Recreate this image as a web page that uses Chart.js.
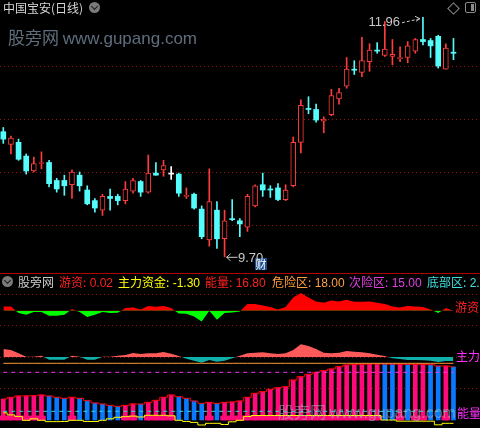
<!DOCTYPE html>
<html>
<head>
<meta charset="utf-8">
<title>中国宝安(日线)</title>
<script src="https://cdn.jsdelivr.net/npm/chart.js@4.4.1/dist/chart.umd.min.js"></script>
<style>
  html, body { margin: 0; padding: 0; background: #000; }
  #wrap { position: relative; width: 480px; height: 428px; overflow: hidden; background: #000;
          font-family: "Noto Sans CJK SC", "Noto Sans", sans-serif; }
  #c { position: absolute; left: 0; top: 0; }
  .t { position: absolute; white-space: nowrap; font-size: 12px; line-height: 14px; }
  .num { font-family: "Liberation Sans", "DejaVu Sans", sans-serif; }
  .ring { position: absolute; width: 11px; height: 11px; border-radius: 50%; background: #7a7a7a; }
  .ring::after { content: ""; position: absolute; left: 3px; top: 2px; width: 4px; height: 4px;
                 border-right: 1.5px solid #1a1a1a; border-bottom: 1.5px solid #1a1a1a; transform: rotate(45deg); }
  #sep { position: absolute; left: 0; top: 273px; width: 480px; height: 1px; background: #b00000; }
  #diamond { position: absolute; left: 449px; top: 4px; width: 7px; height: 7px; border: 1px solid #8a8a8a; transform: rotate(45deg); }
  #panelbtn { position: absolute; left: 465px; top: 2px; width: 9px; height: 9px; border: 1.5px solid #8a8a8a; border-radius: 2px; }
  #panelbtn::after { content: ""; position: absolute; right: 1px; top: 1px; width: 3px; height: 7px; background: #8a8a8a; }
  #cai { position: absolute; left: 255px; top: 258px; width: 12px; height: 12px; background: #1c4f8f;
         color: #fff; font-size: 11px; line-height: 12px; text-align: center; }
</style>
</head>
<body>
<div id="wrap">
  <canvas id="c" width="480" height="428"></canvas>
  <div id="sep"></div>
  <div class="t" style="left:3px;top:1px;color:#d6d6d6">中国宝安(日线)</div>
  <div class="ring" style="left:89px;top:2px"></div>
  <div id="diamond"></div>
  <div id="panelbtn"></div>
  <div class="t" style="left:8px;top:28px;font-size:17px;line-height:18px;color:#5f6d7d">股旁网 <span class="num">www.gupang.com</span></div>
  <div id="cai">财</div>

  <div class="ring" style="left:2px;top:276px"></div>
  <div class="t" style="left:18px;top:275px;color:#c8c8c8">股旁网</div>
  <div class="t" style="left:59px;top:275px;color:#ff2020">游资:<span class="num" id="vYZ"></span></div>
  <div class="t" style="left:118px;top:275px;color:#ffff00">主力资金:<span class="num" id="vZL"></span></div>
  <div class="t" style="left:205px;top:275px;color:#ff2020">能量:<span class="num" id="vNL"></span></div>
  <div class="t" style="left:272px;top:275px;color:#ffa040">危险区:<span class="num" id="vDG"></span></div>
  <div class="t" style="left:349px;top:275px;color:#e040e0">次险区:<span class="num" id="vSD"></span></div>
  <div class="t" style="left:427px;top:275px;color:#40e0e0">底部区:<span class="num" id="vBT"></span></div>

  <div class="t" style="left:455px;top:300px;color:#ff2020">游资</div>
  <div class="t" style="left:456px;top:349px;color:#ff30ff">主力</div>
  <div class="t" style="left:457px;top:406px;color:#ff30ff">能量</div>
  <div class="t" style="left:278px;top:402px;font-size:16px;line-height:18px;color:rgba(170,180,195,0.55)">股旁网 <span class="num">www.gupang.com</span></div>
</div>
<script>
// 日线行情
const open  = [10.88,10.76,10.78,10.65,10.51,10.58,10.59,10.42,10.42,10.38,
               10.47,10.33,10.23,10.14,10.27,10.27,10.23,10.32,10.41,10.31,
               10.49,10.52,10.48,10.48,10.27,10.29,10.15,9.86,10.14,9.87,
               10.06,10.04,9.98,10.18,10.38,10.34,10.35,10.24,10.37,10.78,
               11.10,11.09,10.98,11.04,11.19,11.31,11.47,11.44,11.54,11.65,
               11.60,11.59,11.57,11.58,11.64,11.75,11.74,11.78,11.47,11.63];
const high  = [10.92,10.84,10.81,10.67,10.64,10.69,10.61,10.44,10.47,10.52,
               10.50,10.37,10.25,10.29,10.34,10.29,10.41,10.44,10.42,10.66,
               10.59,10.61,10.55,10.49,10.35,10.30,10.18,10.53,10.22,10.14,
               10.24,10.06,10.29,10.38,10.49,10.37,10.39,10.38,10.83,11.18,
               11.21,11.14,11.02,11.28,11.29,11.58,11.55,11.77,11.71,11.72,
               11.92,11.75,11.68,11.73,11.76,11.96,11.76,11.79,11.71,11.76];
const low   = [10.77,10.67,10.61,10.48,10.50,10.53,10.36,10.31,10.28,10.25,
               10.32,10.19,10.12,10.09,10.14,10.19,10.20,10.30,10.27,10.30,
               10.47,10.46,10.43,10.27,10.25,10.15,9.87,9.80,9.78,9.70,
               10.04,9.89,9.94,10.17,10.27,10.26,10.23,10.23,10.36,10.68,
               11.05,10.97,10.87,11.03,11.14,11.29,11.42,11.40,11.45,11.62,
               11.59,11.51,11.54,11.53,11.62,11.70,11.58,11.48,11.47,11.56];
const close = [10.81,10.82,10.62,10.51,10.58,10.59,10.39,10.34,10.37,10.50,
               10.37,10.20,10.16,10.27,10.25,10.23,10.34,10.42,10.31,10.49,
               10.47,10.56,10.48,10.30,10.28,10.16,9.89,10.22,9.87,10.04,
               10.05,10.01,10.27,10.37,10.33,10.33,10.24,10.33,10.78,11.13,
               11.09,10.99,11.00,11.22,11.25,11.47,11.46,11.55,11.65,11.64,
               11.66,11.61,11.58,11.69,11.75,11.73,11.69,11.50,11.67,11.62];
const priceGrid = [10.0, 10.5, 11.0, 11.5];

// 指标: 游资 / 主力资金 / 能量
const youzi = [1.43,1.43,-0.77,-1.33,-0.43,-0.43,-1.67,-1.67,-1.33,0.57,
               -0.43,-2.10,-1.33,-0.43,-0.77,-0.67,0.90,1.10,0.43,1.57,
               1.33,1.57,0.90,-0.90,-1.00,-1.90,-3.57,0.00,-3.00,-0.77,
               -0.57,-0.23,2.23,2.23,1.77,1.23,0.43,1.23,4.43,5.90,
               4.43,3.10,2.67,3.43,3.10,3.67,3.00,3.00,3.10,2.67,
               2.23,1.43,1.10,1.57,1.43,1.23,0.43,-0.77,0.90,0.02];
const zhuli = [2.67,2.33,1.22,0.10,0.10,0.44,-0.89,-0.89,-0.89,0.44,
               0.10,-0.89,-0.89,0.05,0.05,0.44,0.67,1.33,1.00,1.22,
               1.22,1.67,1.10,0.33,-0.55,-1.22,-1.89,-1.00,-1.55,-1.22,
               -0.44,0.44,1.22,1.44,1.55,1.22,1.00,1.22,2.33,4.22,
               3.67,2.67,1.44,1.22,1.44,2.00,1.78,1.55,1.22,0.78,
               0.33,-0.44,-0.67,-1.00,-1.00,-1.10,-1.22,-1.67,-1.33,-1.30];
const nengliang = [6.10,6.67,7.10,7.15,7.20,7.45,7.10,6.67,6.33,6.67,
                   6.33,5.55,4.77,4.43,3.99,3.66,3.99,4.45,4.40,4.99,
                   5.66,6.67,7.43,6.88,6.33,5.43,4.66,4.99,4.66,4.99,
                   5.10,5.43,6.67,8.00,8.55,9.33,9.88,10.20,12.43,13.55,
                   14.33,15.00,15.55,16.10,16.88,17.43,17.66,17.70,17.77,17.80,
                   17.75,17.70,17.72,17.65,17.65,17.66,17.55,17.10,17.10,16.80];
const yellowLine = [1.5,0.8,0.3,-1.0,-0.5,-1.0,-1.45,-1.45,-1.4,-1.0,
                    -1.0,-1.4,-1.4,-1.0,-0.5,0.0,0.2,0.4,0.1,0.67,
                    0.67,0.67,0.5,-1.0,-1.4,-1.7,-2.57,-2.0,-2.0,-2.4,
                    -1.5,-1.0,0.3,0.6,0.6,0.6,0.6,0.6,0.6,0.6,
                    0.6,0.6,0.6,0.6,0.6,0.6,0.6,0.6,0.6,0.6,
                    -0.9,-0.9,-1.3,-1.3,-1.3,-1.3,-1.3,-2.5,-2.0,-2.0];
const DANGER = 18.00, SUB_DANGER = 15.00, BOTTOM_ZONE = 2.00;
const indicatorGrid = [9.6, 20.1, 30.6, 41.1];

// 指标在同一坐标中的摆放基准
const YZ_BASE = 35.5, ZL_BASE = 20.1;
const STICK_FLOOR = -0.9, BAND_TOP = 0.43;

const N = close.length;
const idx = close.map((_, i) => i);
const RED = '#ff3c3c', CYAN = '#54fcfc';
const PINK = '#ff0a78', BLUE = '#0a78ff';
const candleColor = i => close[i] > open[i] ? RED : (close[i] < open[i] ? CYAN : '#ffffff');
const isUp = i => close[i] > open[i];
const rising = i => i === 0 || nengliang[i] >= nengliang[i - 1];
const pt = (arr, off = 0) => idx.map(i => ({ x: i, y: arr[i] + off }));
const flat = v => idx.map(i => ({ x: i, y: v }));

const fmt = v => v.toFixed(2);
document.getElementById('vYZ').textContent = ' ' + fmt(youzi[N - 1]);
document.getElementById('vZL').textContent = ' ' + fmt(zhuli[N - 1]);
document.getElementById('vNL').textContent = ' ' + fmt(nengliang[N - 1]);
document.getElementById('vDG').textContent = ' ' + fmt(DANGER);
document.getElementById('vSD').textContent = ' ' + fmt(SUB_DANGER);
document.getElementById('vBT').textContent = ' ' + fmt(BOTTOM_ZONE);

// 虚线网格
const gridPlugin = {
  id: 'dotGrid',
  beforeDatasetsDraw(chart) {
    const ctx = chart.ctx, a = chart.chartArea;
    ctx.save();
    ctx.strokeStyle = '#a01010';
    ctx.lineWidth = 1;
    ctx.setLineDash([1, 3]);
    const draw = (scale, vals) => vals.forEach(v => {
      const y = Math.round(scale.getPixelForValue(v)) + 0.5;
      ctx.beginPath(); ctx.moveTo(a.left, y); ctx.lineTo(a.right, y); ctx.stroke();
    });
    draw(chart.scales.yP, priceGrid);
    draw(chart.scales.yI, indicatorGrid);
    ctx.restore();
  }
};

// 最高/最低价标注箭头
let marks = null;
const markPlugin = {
  id: 'hiLo',
  afterDatasetsDraw(chart) {
    const xs = chart.scales.x, ys = chart.scales.yP, ctx = chart.ctx;
    const hi = Math.max(...high), lo = Math.min(...low);
    const hiI = high.indexOf(hi), loI = low.indexOf(lo);
    const hx = xs.getPixelForValue(hiI), hy = ys.getPixelForValue(hi);
    const lx = xs.getPixelForValue(loI), ly = ys.getPixelForValue(lo);
    marks = { hi, lo, hx, hy, lx, ly };
    ctx.save();
    ctx.strokeStyle = '#c8c8c8';
    ctx.lineWidth = 1;
    // 指向最高价
    ctx.setLineDash([3, 2]);
    ctx.beginPath(); ctx.moveTo(hx - 21, hy + 5.5); ctx.lineTo(hx - 3, hy + 1.5); ctx.stroke();
    ctx.setLineDash([]);
    ctx.beginPath(); ctx.moveTo(hx - 8, hy - 1); ctx.lineTo(hx - 3, hy + 1.5); ctx.lineTo(hx - 7, hy + 4); ctx.stroke();
    // 指向最低价
    ctx.beginPath(); ctx.moveTo(lx + 2, ly + 0.5); ctx.lineTo(lx + 13, ly + 0.5); ctx.stroke();
    ctx.beginPath(); ctx.moveTo(lx + 6, ly - 3); ctx.lineTo(lx + 2, ly + 0.5); ctx.lineTo(lx + 6, ly + 4); ctx.stroke();
    ctx.restore();
  }
};

const chart = new Chart(document.getElementById('c'), {
  data: {
    datasets: [
      { type: 'bar', label: '实体', yAxisID: 'yP', order: 0, grouped: false,
        data: idx.map(i => ({ x: i, y: [open[i], close[i]] })),
        barThickness: 5, minBarLength: 1, borderSkipped: false,
        backgroundColor: c => isUp(c.dataIndex) ? '#000000' : candleColor(c.dataIndex),
        borderColor: c => candleColor(c.dataIndex),
        borderWidth: c => isUp(c.dataIndex) ? 1 : 0 },
      { type: 'bar', label: '影线', yAxisID: 'yP', order: 1, grouped: false,
        data: idx.map(i => ({ x: i, y: [low[i], high[i]] })),
        barThickness: 1, backgroundColor: c => candleColor(c.dataIndex) },

      { type: 'line', label: '危险区', yAxisID: 'yI', order: 2, data: flat(DANGER),
        borderColor: '#ff9933', borderWidth: 1, pointRadius: 0 },
      { type: 'line', label: '次险区', yAxisID: 'yI', order: 2, data: flat(SUB_DANGER),
        borderColor: '#ff33ff', borderWidth: 1, borderDash: [4, 4], pointRadius: 0 },
      { type: 'line', label: '底部区', yAxisID: 'yI', order: 2, data: flat(BOTTOM_ZONE),
        borderColor: '#33dddd', borderWidth: 1, borderDash: [4, 4], pointRadius: 0 },
      { type: 'line', label: '黄线', yAxisID: 'yI', order: 2, data: pt(yellowLine),
        borderColor: '#ffff00', borderWidth: 1, pointRadius: 0, stepped: 'middle' },
      { type: 'line', label: '能量线', yAxisID: 'yI', order: 2, data: pt(nengliang),
        borderColor: '#ff0000', borderWidth: 1, pointRadius: 0, stepped: 'middle' },
      { type: 'bar', label: '能量', yAxisID: 'yI', order: 3, grouped: false,
        data: idx.map(i => ({ x: i, y: [STICK_FLOOR, nengliang[i]] })), barThickness: 4,
        backgroundColor: c => rising(c.dataIndex) ? PINK : BLUE },
      { type: 'bar', label: '能量底', yAxisID: 'yI', order: 4, grouped: false,
        data: idx.map(i => ({ x: i, y: rising(i) ? [STICK_FLOOR, BAND_TOP] : null })), barThickness: 8,
        backgroundColor: PINK },

      { type: 'line', label: '游资', yAxisID: 'yI', order: 5, data: pt(youzi, YZ_BASE),
        borderColor: 'rgba(0,0,0,0)', borderWidth: 0, pointRadius: 0,
        fill: { target: { value: YZ_BASE }, above: '#ff0000', below: '#00ff00' } },
      { type: 'line', label: '主力', yAxisID: 'yI', order: 5, data: pt(zhuli, ZL_BASE),
        borderColor: 'rgba(0,0,0,0)', borderWidth: 0, pointRadius: 0,
        fill: { target: { value: ZL_BASE }, above: '#ff5a5a', below: '#10b0a8' } }
    ]
  },
  options: {
    responsive: false, animation: false, devicePixelRatio: 1,
    layout: { padding: 0 },
    plugins: { legend: { display: false }, tooltip: { enabled: false } },
    scales: {
      x: { type: 'linear', display: false, offset: false, min: -0.4325, max: 62.477 },
      yP: { type: 'linear', display: false, min: 8.0849, max: 12.1226 },
      yI: { type: 'linear', display: false, min: -3.567, max: 139.1 }
    }
  },
  plugins: [gridPlugin, markPlugin]
});

// 最高/最低价文字
const wrap = document.getElementById('wrap');
function addLabel(text, left, top, right) {
  const d = document.createElement('div');
  d.className = 't num';
  d.style.color = '#c8c8c8';
  d.style.fontSize = '13px';
  d.style.top = top + 'px';
  if (right !== undefined) d.style.right = right + 'px'; else d.style.left = left + 'px';
  d.textContent = text;
  wrap.appendChild(d);
}
if (marks) {
  addLabel(fmt(marks.hi), 0, Math.round(marks.hy - 2), Math.round(480 - (marks.hx - 23)));
  addLabel(fmt(marks.lo), Math.round(marks.lx + 13), Math.round(marks.ly - 6));
}
</script>
</body>
</html>
